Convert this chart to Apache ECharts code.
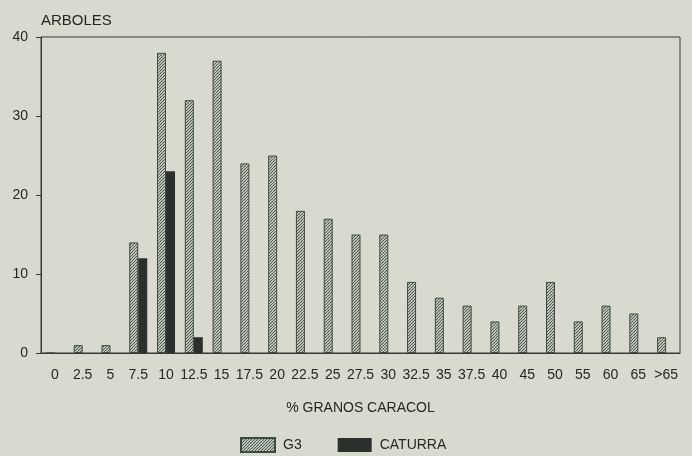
<!DOCTYPE html>
<html><head><meta charset="utf-8">
<script src="https://cdn.jsdelivr.net/npm/echarts/dist/echarts.min.js"></script>
<style>html,body{margin:0;padding:0;background:#d9dacf}#c{width:692px;height:456px}</style>
</head><body><div id="c"></div>
<script>
const categories = ['0','2.5','5','7.5','10','12.5','15','17.5','20','22.5','25','27.5','30','32.5','35','37.5','40','45','50','55','60','65','>65'];
const g3Values = [0,1,1,14,38,32,37,24,25,18,17,15,15,9,7,6,4,6,9,4,6,5,2];
const caturraValues = [null,null,null,12,23,2,null,null,null,null,null,null,null,null,null,null,null,null,null,null,null,null,null];
const yTicks = [0,10,20,30,40];

function hatch(){
  const s = 3;
  const c = document.createElement('canvas');
  c.width = s; c.height = s;
  const x = c.getContext('2d');
  x.fillStyle = '#e2e3da'; x.fillRect(0,0,s,s);
  x.strokeStyle = '#46524a'; x.lineWidth = 1.1;
  x.beginPath();
  for (let k=-s;k<=2*s;k+=s){ x.moveTo(k,s); x.lineTo(k+s,0); }
  x.stroke();
  return c;
}
const ink = '#242824';
const chart = echarts.init(document.getElementById('c'));
chart.setOption({
  backgroundColor: '#d9dacf',
  textStyle: {fontFamily: 'Liberation Sans, Arial, sans-serif', color: ink},
  grid: {left: 41, right: 12, top: 37, bottom: 103, show: true, borderColor: '#353a36', borderWidth: 1, backgroundColor: 'transparent'},
  legend: {
    left: 240, top: 437, padding: 0, itemWidth: 34, itemHeight: 14, itemGap: 36,
    icon: 'rect',
    textStyle: {fontSize: 14, color: ink, padding: [0,0,0,3]},
    data: ['G3','CATURRA']
  },
  xAxis: {
    type: 'category', data: categories, boundaryGap: true,
    name: '% GRANOS CARACOL', nameLocation: 'middle', nameGap: 48,
    nameTextStyle: {fontSize: 14, color: ink},
    axisLine: {lineStyle: {color: '#353a36', width: 1}},
    axisTick: {alignWithLabel: true, length: 7, lineStyle: {color: '#353a36'}},
    axisLabel: {interval: 0, margin: 15, fontSize: 14, color: ink}
  },
  yAxis: {
    type: 'value', min: yTicks[0], max: yTicks[yTicks.length-1], interval: 10,
    name: 'ARBOLES', nameLocation: 'end', nameGap: 9,
    nameTextStyle: {fontSize: 15, color: ink, align: 'left', verticalAlign: 'bottom'},
    axisLine: {show: true, lineStyle: {color: '#353a36', width: 1}},
    axisTick: {show: true, length: 5, lineStyle: {color: '#353a36'}},
    axisLabel: {fontSize: 14, color: ink, margin: 13},
    splitLine: {show: false}
  },
  series: [
    {name: 'G3', type: 'bar', data: g3Values, barWidth: 9, barGap: '0%',
     itemStyle: {color: {image: hatch(), repeat: 'repeat'}, borderColor: '#3d4a42', borderWidth: 1}},
    {name: 'CATURRA', type: 'bar', data: caturraValues, barWidth: 9, barGap: '0%',
     itemStyle: {color: '#2b302c', borderColor: '#2b302c', borderWidth: 0}}
  ]
});
</script></body></html>
